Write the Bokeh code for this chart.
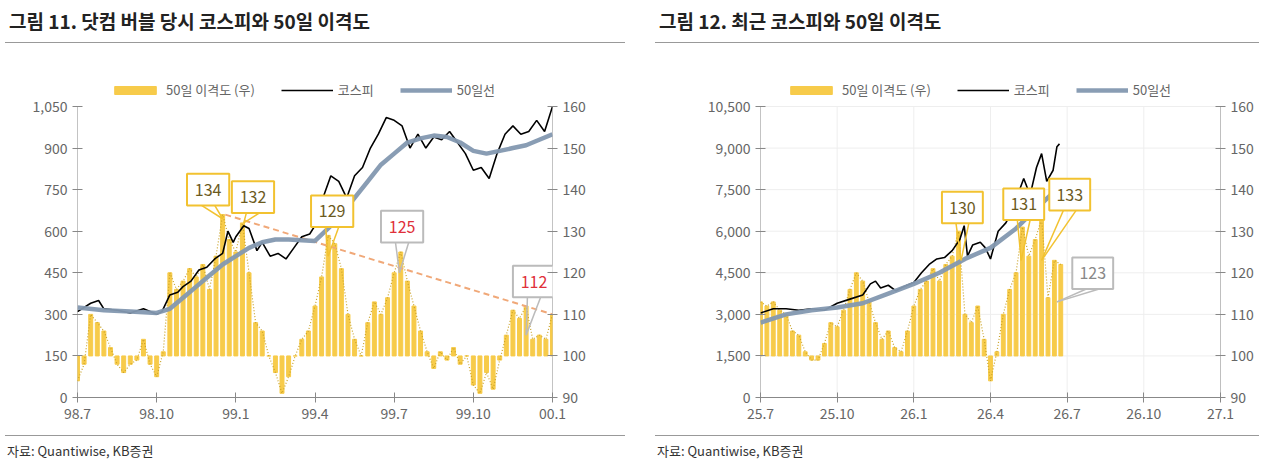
from bokeh.plotting import figure
from bokeh.models import Range1d, LinearAxis, Div, Legend, LegendItem, FixedTicker, NumeralTickFormatter
from bokeh.layouts import row, column
from bokeh.embed import file_html
from bokeh.resources import INLINE
from bokeh.core.properties import value

FONT = "Noto Sans CJK KR"

# ---------- data: left panel (dot-com bubble) ----------
L_title = "그림 11. 닷컴 버블 당시 코스피와 50일 이격도"
L_xticks = ["98.7", "98.10", "99.1", "99.4", "99.7", "99.10", "00.1"]
L_kospi_x = [0, 0.5, 0.8, 1, 1.5, 2, 2.5, 3, 3.2, 3.5, 3.8, 4, 4.3, 4.6, 4.9, 5.2, 5.5, 5.7, 5.9, 6, 6.3, 6.5,
             6.8, 7, 7.3, 7.6, 7.9, 8.2, 8.5, 8.8, 9, 9.3, 9.6, 9.9, 10.2, 10.5, 10.8, 11.1, 11.4, 11.7, 12,
             12.3, 12.6, 12.9, 13.2, 13.5, 13.8, 14.1, 14.4, 14.7, 15, 15.3, 15.6, 15.9, 16.2, 16.5, 16.8,
             17.1, 17.4, 17.7, 18]
L_kospi = [310, 340, 350, 320, 315, 305, 320, 300, 310, 370, 380, 400, 420, 460, 470, 500, 520, 600, 560, 580,
           620, 610, 530, 560, 510, 520, 500, 540, 580, 590, 620, 720, 800, 780, 720, 800, 830, 900, 950, 1010,
           1000, 980, 900, 950, 900, 940, 930, 960, 920, 880, 820, 830, 790, 880, 950, 980, 950, 960, 1000, 960,
           1050]
L_ma_x = [0, 1, 2, 3, 3.5, 4, 4.5, 5, 5.5, 6, 6.5, 7, 7.5, 8, 9, 9.5, 10, 10.5, 11, 11.5, 12, 12.5, 13, 13.5,
          14, 14.5, 15, 15.5, 16, 16.5, 17, 17.5, 18]
L_ma = [325, 315, 310, 305, 320, 360, 400, 440, 480, 510, 540, 560, 570, 570, 565, 610, 660, 720, 780, 840,
        880, 920, 935, 945, 940, 920, 890, 880, 890, 900, 910, 930, 950]
L_disp = [94, 98, 110, 108, 106, 102, 98, 96, 98, 99, 104, 98, 95, 101, 120, 116, 118, 121, 119, 122, 116, 124,
          134, 128, 125, 132, 120, 108, 106, 100, 96, 91, 95, 100, 104, 106, 112, 119, 129, 127, 121, 110, 104,
          100, 108, 113, 110, 114, 120, 125, 118, 112, 106, 101, 97, 101, 99, 102, 98, 100, 93, 91, 96, 92, 99,
          105, 111, 109, 112, 104, 105, 104, 110]
L_trend_x = [5.6, 18]
L_trend = [134, 110]
L_boxes = [("134", 4.95, 140, 5.5, 133, "gold"), ("132", 6.65, 138.2, 6.3, 132, "gold"),
           ("129", 9.65, 134.8, 9.5, 124, "gold"), ("125", 12.3, 131.1, 12.2, 120, "grey"),
           ("112", 17.3, 117.9, 17.0, 105, "grey")]

# ---------- data: right panel (recent) ----------
R_title = "그림 12. 최근 코스피와 50일 이격도"
R_xticks = ["25.7", "25.10", "26.1", "26.4", "26.7", "26.10", "27.1"]
R_kospi_x = [0, 0.5, 1, 1.5, 2, 2.5, 2.7, 3, 3.5, 4, 4.3, 4.5, 4.7, 5, 5.3, 5.6, 6, 6.3, 6.6, 6.9, 7.2, 7.5,
             7.8, 7.97, 8.1, 8.3, 8.6, 8.8, 9, 9.3, 9.6, 9.9, 10.1, 10.3, 10.55, 10.8, 11.0, 11.2, 11.45, 11.6, 11.7]
R_kospi = [3050, 3200, 3200, 3150, 3200, 3150, 3250, 3400, 3550, 3700, 4100, 4200, 3950, 4050, 3850, 4000,
           4150, 4500, 4800, 5000, 5050, 5300, 5700, 6200, 5100, 5500, 5600, 5400, 5000, 6000, 6300, 6800, 7400,
           7900, 7300, 8300, 8800, 7800, 8200, 9050, 9150]
R_ma_x = [0, 1, 2, 3, 4, 5, 6, 7, 8, 9, 10, 11, 11.7]
R_ma = [2700, 3000, 3150, 3250, 3400, 3750, 4100, 4500, 5000, 5400, 6100, 7000, 7600]
R_disp = [113, 112, 113, 111, 110, 106, 105, 101, 99, 99, 103, 108, 107, 111, 116, 120, 118, 113, 108, 104,
          106, 102, 101, 106, 112, 116, 118, 121, 118, 122, 124, 130, 110, 108, 112, 104, 94, 101, 110, 116,
          120, 131, 124, 128, 133, 114, 123, 122]
R_boxes = [("130", 7.9, 135.7, 7.85, 123, "gold"), ("131", 10.3, 136.5, 10.2, 123, "gold"),
           ("133", 12.1, 138.8, 11.0, 123, "gold"), ("123", 13.0, 119.9, 11.6, 113, "grey")]

BAR = "#F7CB4A"
DOT = "#C9A227"
MA = "#8398B0"
GREY = "#666666"
AX = "#888888"
EXT = 321 / 291  # frame extends above the top tick to leave room for the legend


def panel(title, xticks, kx, ky, mx, my, disp, ymax, ystep, boxes, trend=None, grid=False,
          width=640, border_left=77, border_right=88, leg_x=30):
    p = figure(width=width, height=380,
               min_border_left=border_left, min_border_right=border_right,
               min_border_top=26, min_border_bottom=33,
               x_range=Range1d(0, 18), y_range=Range1d(0, ymax * EXT),
               output_backend="svg", toolbar_location=None, outline_line_color=None)
    p.extra_y_ranges = {"r": Range1d(90, 90 + 70 * EXT)}
    if grid:
        p.segment(x0=list(range(3, 19, 3)), y0=0, x1=list(range(3, 19, 3)), y1=ymax,
                  line_color="#EEEEEE", line_width=1)
        p.segment(x0=0, y0=list(range(ystep, ymax + 1, ystep)), x1=18, y1=list(range(ystep, ymax + 1, ystep)),
                  line_color="#EEEEEE", line_width=1)
    p.segment(x0=[0, 18], y0=[0, 0], x1=[0, 18], y1=[ymax, ymax], line_color=AX, line_width=1)
    dx = [i * 0.25 for i in range(len(disp))]
    bars = p.vbar(x=dx, bottom=100, top=disp, width=0.15, color=BAR, y_range_name="r")
    p.line(dx, disp, line_color=DOT, line_dash="1 2", line_width=1.2, y_range_name="r")
    if trend:
        p.line(trend[0], trend[1], line_color="#F0A878", line_dash="6 4", line_width=2, y_range_name="r")
    k = p.line(kx, ky, line_color="black", line_width=1.6)
    m = p.line(mx, my, line_color=MA, line_width=4.5, line_alpha=0.95)
    for lab, cx, cy, px, py, kind in boxes:
        ec = "#F2C230" if kind == "gold" else "#BBBBBB"
        tc = "#6B5A1E" if kind == "gold" else ("#E0303A" if lab != "123" else "#888888")
        p.segment(x0=[cx - 0.25, cx + 0.25], y0=[cy - 3.8, cy - 3.8], x1=[px, px], y1=[py, py],
                  line_color=ec, line_width=1.5, y_range_name="r")
        p.rect(x=[cx], y=[cy], width=1.6, height=7.6, fill_color="white", line_color=ec, line_width=2,
               y_range_name="r")
        p.text(x=[cx], y=[cy], text=[lab], text_align="center", text_baseline="middle",
               text_color=tc, text_font=value(FONT), text_font_size="16px", y_range_name="r")
    ax = p.yaxis[0]
    ax.ticker = FixedTicker(ticks=list(range(0, ymax + 1, ystep)))
    ax.formatter = NumeralTickFormatter(format="0,0")
    ra = LinearAxis(y_range_name="r", ticker=FixedTicker(ticks=list(range(90, 161, 10))))
    p.add_layout(ra, "right")
    p.xaxis.ticker = FixedTicker(ticks=list(range(0, 19, 3)))
    p.xaxis.major_label_overrides = {i * 3: t for i, t in enumerate(xticks)}
    for a in [ax, ra, p.xaxis[0]]:
        a.axis_line_color = AX
        a.major_tick_line_color = AX
        a.major_tick_in = 5
        a.major_tick_out = 5
        a.minor_tick_line_color = None
        a.major_label_text_color = GREY
        a.major_label_text_font = FONT
        a.major_label_text_font_size = "14px"
    ax.axis_line_color = None
    ra.axis_line_color = None
    p.grid.grid_line_color = None
    leg = Legend(items=[LegendItem(label="50일 이격도 (우)", renderers=[bars]),
                        LegendItem(label="코스피", renderers=[k]),
                        LegendItem(label="50일선", renderers=[m])],
                 orientation="horizontal", location=(leg_x, 298), border_line_color=None,
                 background_fill_alpha=0,
                 label_text_font=FONT, label_text_font_size="13px", label_text_color=GREY,
                 glyph_width=52, glyph_height=10, spacing=26, padding=0, margin=0)
    p.add_layout(leg)
    t = Div(text=f"<div style='font-family:\"{FONT}\";font-weight:bold;font-size:19px;color:#222;"
                 f"border-bottom:1px solid #999;padding:2px 0 8px 4px;width:{width - 20}px'>{title}</div>",
            width=width, height=40)
    f = Div(text=f"<div style='font-family:\"{FONT}\";font-size:13px;color:#333;"
                 f"border-top:1px solid #999;padding:6px 0 0 2px;width:{width - 20}px'>자료: Quantiwise, KB증권</div>",
            width=width, height=30)
    return column(t, p, f, spacing=0)


left = panel(L_title, L_xticks, L_kospi_x, L_kospi, L_ma_x, L_ma, L_disp, 1050, 150, L_boxes,
             trend=(L_trend_x, L_trend), width=640, border_left=77, border_right=88, leg_x=32)
right = panel(R_title, R_xticks, R_kospi_x, R_kospi, R_ma_x, R_ma, R_disp, 10500, 1500, R_boxes,
              grid=True, width=624, border_left=110, border_right=54, leg_x=25)
layout = row(left, right, spacing=0)
open("out.html", "w").write(file_html(layout, INLINE))
